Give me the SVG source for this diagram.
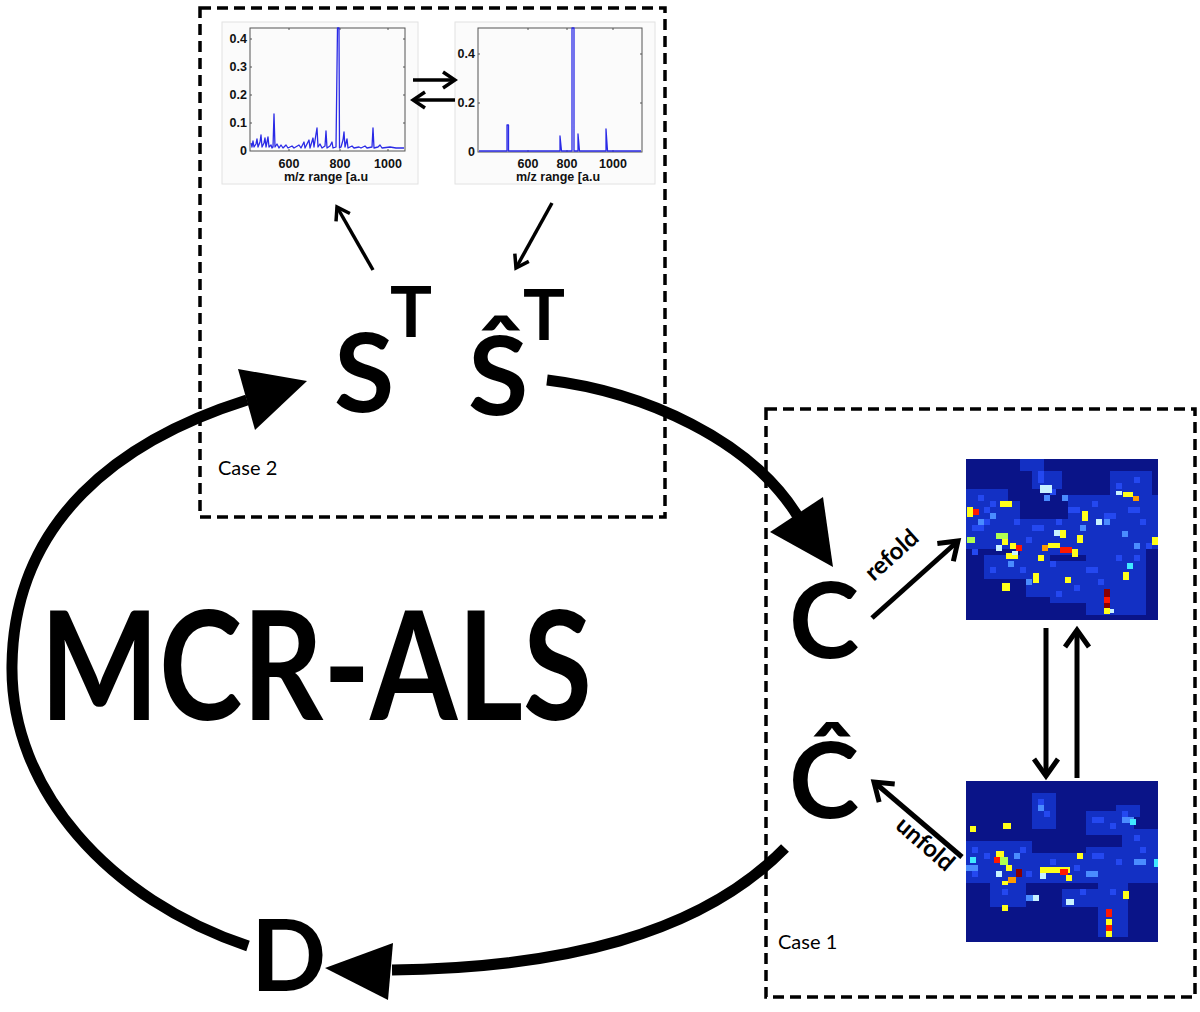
<svg xmlns="http://www.w3.org/2000/svg" width="1200" height="1012" viewBox="0 0 1200 1012">
<defs>
<style>
.box{fill:none;stroke:#000;stroke-width:3.5;stroke-dasharray:11 6}
.frame{fill:#fbfbfb;stroke:#e2e2e2;stroke-width:1}
.axis{fill:none;stroke:#555;stroke-width:1}
.spec{fill:none;stroke:#2a2ae6;stroke-width:1.3;stroke-linejoin:round}
.tick{font-family:"Liberation Sans",Arial,sans-serif;font-weight:bold;font-size:12.5px;fill:#111}
.big{font-family:Lato,"Open Sans",sans-serif;font-weight:bold;fill:#000}
.lbl{font-family:Lato,"Open Sans",sans-serif;fill:#000}
.thick{fill:none;stroke:#000;stroke-width:11}
.head{fill:#000}
.thin{fill:none;stroke:#000;stroke-width:3.5;marker-end:url(#chev)}
.mid{fill:none;stroke:#000;stroke-width:5;marker-end:url(#chev2)}
.bg{fill:#0a1488}
.b0{fill:#1330c4}
.b1{fill:#2448f0}
.b2{fill:#4a8cff}
.w{fill:#c8f2ff}
.c{fill:#40e8ff}
.g{fill:#b0ff50}
.y{fill:#ffff1a}
.o{fill:#ff9a00}
.r{fill:#ff1800}
.dr{fill:#8a0000}
</style>
<marker id="chev" markerUnits="userSpaceOnUse" viewBox="0 0 20 20" refX="17" refY="10" markerWidth="20" markerHeight="20" orient="auto">
<path d="M5,2 L17,10 L5,18" fill="none" stroke="#000" stroke-width="3.5"/>
</marker>
<marker id="chev2" markerUnits="userSpaceOnUse" viewBox="0 0 30 30" refX="25" refY="15" markerWidth="30" markerHeight="30" orient="auto">
<path d="M8,3 L25,15 L8,27" fill="none" stroke="#000" stroke-width="5"/>
</marker>
</defs>
<rect width="1200" height="1012" fill="#fff"/>

<g id="case2">
<rect class="box" x="200" y="8" width="465" height="509"/>
<text class="lbl" x="218" y="475" font-size="20">Case 2</text>
</g>

<g id="case1">
<rect class="box" x="766" y="409" width="429" height="588"/>
<text class="lbl" x="778" y="949" font-size="20">Case 1</text>
</g>

<g id="plot1">
<rect class="frame" x="222" y="22" width="196" height="162"/>
<rect class="axis" x="250" y="28" width="155" height="123"/>
<path class="axis" d="M289,151v-2M340,151v-2M388,151v-2M289,28v2M340,28v2M388,28v2M250,123h2M250,95h2M250,67h2M250,39h2M405,123h-2M405,95h-2M405,67h-2M405,39h-2"/>
<path class="spec" d="M251,143 L252,147 L253,141 L254,147 L256,144 L257,139 L258,147 L260,142 L261,135 L262,147 L264,143 L265,138 L266,147 L268,137 L269,147 L271,145 L272,148 L273,147 L274,114 L275,147 L277,144 L279,148 L281,145 L283,148 L286,145 L288,148 L292,146 L294,148 L299,145 L301,148 L304,142 L305,148 L309,140 L310,148 L313,138 L314,147 L316,134 L317,128 L318,147 L320,144 L322,148 L325,146 L326,131 L327,148 L330,146 L332,142 L333,148 L336,147 L337.5,28 L339,28 L339.5,148 L341,147 L343,140 L344,132 L345,147 L347,139 L348,148 L352,146 L354,148 L359,147 L361,148 L365,146 L367,148 L372,147 L373,128 L374,148 L378,147 L380,145 L382,148 L390,147 L396,148 L404,148"/>
<text class="tick" x="247" y="43" text-anchor="end">0.4</text>
<text class="tick" x="247" y="71" text-anchor="end">0.3</text>
<text class="tick" x="247" y="99" text-anchor="end">0.2</text>
<text class="tick" x="247" y="127" text-anchor="end">0.1</text>
<text class="tick" x="247" y="155" text-anchor="end">0</text>
<text class="tick" x="289" y="168" text-anchor="middle">600</text>
<text class="tick" x="340" y="168" text-anchor="middle">800</text>
<text class="tick" x="388" y="168" text-anchor="middle">1000</text>
<text class="tick" x="326" y="181" text-anchor="middle">m/z range [a.u</text>
</g>

<g id="plot2">
<rect class="frame" x="455" y="22" width="200" height="162"/>
<rect class="axis" x="478" y="28" width="164" height="124"/>
<path class="axis" d="M528,152v-2M567,152v-2M613,152v-2M528,28v2M567,28v2M613,28v2M478,54h2M478,103h2M642,54h-2M642,103h-2"/>
<path class="spec" d="M479,151 L507,151 L507,125 L508.5,125 L508.5,151 L560,151 L560,136 L561.5,151 L572,151 L572,28 L574,28 L574,151 L578,151 L578,134 L579.5,151 L606,151 L606,129 L607.5,151 L641,151"/>
<text class="tick" x="475" y="58" text-anchor="end">0.4</text>
<text class="tick" x="475" y="107" text-anchor="end">0.2</text>
<text class="tick" x="475" y="156" text-anchor="end">0</text>
<text class="tick" x="528" y="168" text-anchor="middle">600</text>
<text class="tick" x="567" y="168" text-anchor="middle">800</text>
<text class="tick" x="613" y="168" text-anchor="middle">1000</text>
<text class="tick" x="558" y="181" text-anchor="middle">m/z range [a.u</text>
</g>

<g id="node-S">
<text class="big" x="334" y="412" font-size="110">S</text>
<text class="big" x="390" y="337" font-size="70">T</text>
</g>
<g id="node-Shat">
<text class="big" x="468" y="415" font-size="110">Ŝ</text>
<text class="big" x="523" y="340" font-size="70">T</text>
</g>
<g id="node-C">
<text class="big" x="789" y="658" font-size="106">C</text>
</g>
<g id="node-Chat">
<text class="big" x="789" y="818" font-size="106">Ĉ</text>
</g>
<g id="node-D">
<text class="big" x="251" y="991" font-size="99">D</text>
</g>
<g id="title">
<text class="big" x="40" y="720" font-size="152" textLength="552" lengthAdjust="spacingAndGlyphs">MCR-ALS</text>
</g>

<g id="map1" transform="translate(966,459)">
<rect class="bg" width="192" height="161"/>
<path class="b0" d="M54,0h24v12h-24zM66,12h30v18h-30zM0,30h42v12h-42zM0,42h54v48h-54zM54,60h72v36h-72zM102,36h90v30h-90zM120,66h72v24h-72zM144,12h42v24h-42zM18,96h66v24h-66zM60,102h60v36h-60zM120,90h60v66h-60zM84,126h48v18h-48z"/>
<path class="b1" d="M72,18h6v6h-6zM84,30h6v6h-6zM12,36h6v6h-6zM24,42h6v6h-6zM18,60h6v6h-6zM6,66h12v6h-12zM48,60h6v6h-6zM60,78h6v6h-6zM66,66h12v6h-12zM102,48h12v6h-12zM126,42h6v6h-6zM138,54h12v6h-12zM162,48h12v6h-12zM174,60h6v6h-6zM150,24h6v6h-6zM168,18h6v6h-6zM84,102h6v6h-6zM54,108h6v6h-6zM120,108h12v6h-12zM150,96h6v6h-6zM168,96h6v6h-6zM132,120h6v6h-6zM24,108h6v6h-6zM90,132h6v6h-6zM108,126h6v6h-6zM180,84h6v6h-6zM6,90h6v6h-6zM72,12h6v6h-6zM18,48h6v6h-6zM90,60h6v6h-6z"/>
<path class="b2" d="M78,36h6v6h-6zM138,60h6v6h-6zM24,54h6v6h-6zM114,66h6v6h-6zM60,120h6v6h-6zM156,72h6v6h-6zM96,36h6v6h-6zM42,102h6v6h-6zM12,60h6v6h-6zM168,84h6v6h-6z"/>
<rect class="w" x="74" y="26" width="12" height="8"/><rect class="w" x="130" y="60" width="6" height="6"/><rect class="w" x="88" y="71" width="6" height="6"/><rect class="w" x="150" y="32" width="6" height="4"/>
<rect class="y" x="34" y="42" width="12" height="6"/>
<rect class="y" x="1" y="48" width="6" height="10"/><rect class="r" x="7" y="50" width="6" height="6"/>
<rect class="y" x="116" y="52" width="6" height="10"/>
<rect class="y" x="157" y="33" width="10" height="5"/><rect class="o" x="167" y="37" width="6" height="5"/>
<rect class="g" x="1" y="78" width="8" height="6"/>
<rect class="g" x="30" y="74" width="12" height="6"/><rect class="y" x="36" y="80" width="6" height="6"/><rect class="w" x="30" y="86" width="6" height="6"/>
<rect class="y" x="44" y="84" width="6" height="6"/><rect class="r" x="50" y="86" width="6" height="6"/><rect class="y" x="40" y="94" width="12" height="6"/><rect class="w" x="46" y="92" width="6" height="4"/>
<rect class="y" x="94" y="71" width="6" height="8"/><rect class="y" x="111" y="76" width="6" height="8"/>
<rect class="o" x="76" y="86" width="6" height="6"/><rect class="y" x="82" y="84" width="12" height="5"/><rect class="r" x="94" y="88" width="12" height="6"/><rect class="y" x="106" y="90" width="6" height="8"/>
<rect class="y" x="72" y="96" width="6" height="6"/><rect class="y" x="67" y="114" width="6" height="10"/><rect class="y" x="99" y="118" width="6" height="6"/>
<rect class="y" x="36" y="124" width="8" height="8"/>
<rect class="dr" x="138" y="130" width="6" height="8"/><rect class="r" x="138" y="138" width="6" height="6"/><rect class="dr" x="138" y="144" width="6" height="5"/><rect class="y" x="138" y="149" width="6" height="6"/><rect class="w" x="144" y="150" width="4" height="4"/>
<rect class="y" x="157" y="113" width="6" height="8"/><rect class="c" x="161" y="104" width="6" height="6"/><rect class="y" x="186" y="78" width="6" height="8"/>
</g>

<g id="map2" transform="translate(966,781)">
<rect class="bg" width="192" height="161"/>
<path class="b0" d="M66,12h24v36h-24zM120,30h48v24h-48zM0,60h66v42h-66zM66,72h54v30h-54zM120,66h72v36h-72zM24,102h36v24h-36zM96,108h42v18h-42zM132,102h30v54h-30zM156,48h36v18h-36zM150,24h24v12h-24z"/>
<path class="b1" d="M72,18h6v12h-6zM78,30h6v6h-6zM126,36h12v6h-12zM144,42h6v6h-6zM6,66h6v6h-6zM18,72h6v6h-6zM54,66h6v6h-6zM60,90h6v6h-6zM84,78h6v6h-6zM108,84h6v6h-6zM126,72h12v6h-12zM150,78h6v6h-6zM174,66h6v6h-6zM36,108h6v6h-6zM114,108h6v6h-6zM144,108h6v6h-6zM6,90h6v6h-6zM168,54h6v6h-6zM156,30h6v6h-6z"/>
<path class="b2" d="M72,24h6v6h-6zM0,84h12v6h-12zM120,90h12v6h-12zM60,114h12v6h-12zM168,78h12v6h-12zM156,36h12v6h-12zM48,72h6v6h-6z"/>
<rect class="y" x="37" y="42" width="8" height="6"/><rect class="y" x="4" y="45" width="6" height="6"/><rect class="c" x="4" y="76" width="6" height="6"/>
<rect class="y" x="30" y="70" width="8" height="6"/><rect class="r" x="28" y="76" width="6" height="6"/><rect class="g" x="34" y="76" width="8" height="8"/><rect class="y" x="40" y="84" width="6" height="6"/>
<rect class="dr" x="50" y="88" width="6" height="8"/><rect class="o" x="42" y="96" width="8" height="6"/><rect class="w" x="30" y="90" width="6" height="6"/><rect class="y" x="36" y="100" width="6" height="4"/>
<rect class="y" x="74" y="86" width="30" height="6"/><rect class="r" x="94" y="88" width="8" height="6"/><rect class="w" x="74" y="92" width="6" height="6"/>
<rect class="y" x="111" y="72" width="6" height="6"/><rect class="y" x="100" y="94" width="6" height="6"/>
<rect class="w" x="67" y="114" width="6" height="6"/><rect class="w" x="100" y="118" width="8" height="6"/><rect class="y" x="36" y="124" width="6" height="6"/>
<rect class="r" x="140" y="128" width="6" height="8"/><rect class="y" x="140" y="138" width="6" height="6"/><rect class="r" x="140" y="144" width="6" height="6"/><rect class="y" x="140" y="150" width="6" height="6"/>
<rect class="y" x="157" y="110" width="6" height="8"/><rect class="c" x="164" y="38" width="6" height="6"/><rect class="c" x="188" y="78" width="4" height="8"/>
</g>

<g id="connectors">
<path class="thick" d="M248,946 C110,900 10,790 12,665 C14,520 120,440 247,400"/>
<polygon class="head" points="307,381 238,369 255,430"/>
<path class="thick" d="M547,380 C645,392 750,440 797,515"/>
<polygon class="head" points="833,567 770,532 823,497"/>
<path class="thick" d="M785,848 C700,935 560,968 392,970"/>
<polygon class="head" points="325,968 393,943 388,1000"/>
<line class="thin" x1="373" y1="270" x2="337" y2="207"/>
<line class="thin" x1="552" y1="203" x2="516" y2="268"/>
<line class="thin" x1="413" y1="80" x2="455" y2="80"/>
<line class="thin" x1="455" y1="100" x2="413" y2="100"/>
<line class="mid" x1="872" y1="618" x2="958" y2="541"/>
<line class="mid" x1="962" y1="857" x2="874" y2="782"/>
<line class="mid" x1="1046" y1="628" x2="1046" y2="776"/>
<line class="mid" x1="1077" y1="778" x2="1077" y2="630"/>
<text class="big" x="897" y="561" font-size="24" text-anchor="middle" transform="rotate(-42 897 561)">refold</text>
<text class="big" x="920" y="850" font-size="24" text-anchor="middle" transform="rotate(41 920 850)">unfold</text>
</g>
</svg>
